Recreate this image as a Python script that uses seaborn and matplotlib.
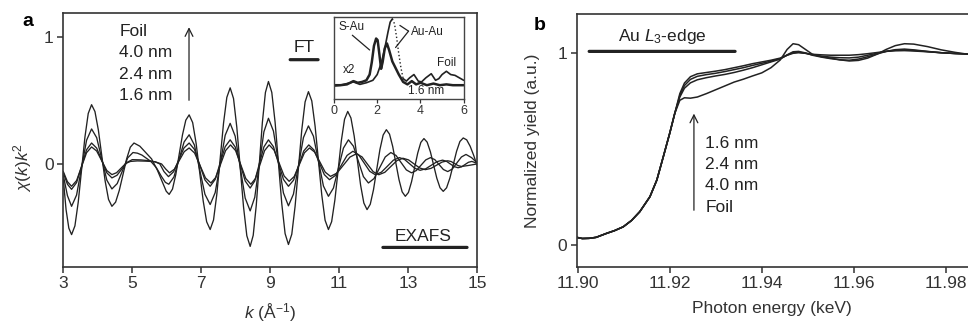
import numpy as np
import pandas as pd
import matplotlib
matplotlib.use("Agg")
import matplotlib.pyplot as plt
import seaborn as sns

# ---------------- Panel a: EXAFS chi(k)k^2 ----------------
k_foil = [3.00, 3.08, 3.16, 3.24, 3.337, 3.433, 3.53, 3.627, 3.723, 3.82, 3.918, 4.017, 4.115, 4.213, 4.312,
          4.41, 4.517, 4.623, 4.73, 4.837, 4.943, 5.05, 5.22, 5.39, 5.56, 5.73, 5.90, 5.985, 6.07, 6.167,
          6.263, 6.36, 6.457, 6.553, 6.65, 6.752, 6.853, 6.955, 7.057, 7.158, 7.26, 7.357, 7.453, 7.55,
          7.647, 7.743, 7.84, 7.937, 8.033, 8.13, 8.227, 8.323, 8.42, 8.508, 8.597, 8.685, 8.773, 8.862,
          8.95, 9.047, 9.143, 9.24, 9.337, 9.433, 9.53, 9.627, 9.723, 9.82, 9.917, 10.013, 10.11, 10.207,
          10.303, 10.40, 10.497, 10.593, 10.69, 10.783, 10.877, 10.97, 11.063, 11.157, 11.25, 11.343,
          11.437, 11.53, 11.623, 11.717, 11.81, 11.903, 11.997, 12.09, 12.183, 12.277, 12.37, 12.462,
          12.553, 12.645, 12.737, 12.828, 12.92, 13.01, 13.10, 13.19, 13.28, 13.37, 13.46, 13.553, 13.647,
          13.74, 13.833, 13.927, 14.02, 14.117, 14.213, 14.31, 14.407, 14.503, 14.60, 14.70, 14.80, 14.90,
          15.00]
chi_foil = [-0.12, -0.36, -0.506, -0.557, -0.488, -0.301, -0.045, 0.211, 0.398, 0.467, 0.413, 0.267, 0.066,
            -0.134, -0.280, -0.334, -0.301, -0.209, -0.085, 0.040, 0.132, 0.165, 0.14, 0.09, 0.04, -0.05,
            -0.16, -0.215, -0.24, -0.198, -0.083, 0.074, 0.230, 0.345, 0.387, 0.326, 0.161, -0.065, -0.291,
            -0.456, -0.517, -0.442, -0.238, 0.042, 0.321, 0.525, 0.600, 0.516, 0.288, -0.025, -0.338, -0.566,
            -0.650, -0.563, -0.325, 0.000, 0.325, 0.563, 0.650, 0.564, 0.329, 0.008, -0.314, -0.549, -0.635,
            -0.554, -0.334, -0.033, 0.269, 0.489, 0.570, 0.497, 0.298, 0.027, -0.245, -0.444, -0.517, -0.455,
            -0.284, -0.052, 0.181, 0.352, 0.414, 0.362, 0.220, 0.027, -0.167, -0.308, -0.360, -0.318, -0.203,
            -0.045, 0.113, 0.228, 0.270, 0.235, 0.139, 0.008, -0.124, -0.220, -0.255, -0.225, -0.141, -0.028,
            0.086, 0.170, 0.200, 0.172, 0.096, -0.008, -0.112, -0.188, -0.216, -0.188, -0.111, -0.006, 0.100,
            0.177, 0.205, 0.19, 0.14, 0.07, -0.01]

k_40 = [3.00, 3.12, 3.24, 3.385, 3.53, 3.675, 3.82, 3.968, 4.115, 4.263, 4.41, 4.563, 4.715, 4.868, 5.02,
        5.15, 5.28, 5.54, 5.70, 5.85, 5.96, 6.06, 6.208, 6.355, 6.503, 6.65, 6.803, 6.955, 7.108, 7.26,
        7.405, 7.55, 7.695, 7.84, 7.985, 8.13, 8.275, 8.42, 8.553, 8.685, 8.818, 8.95, 9.095, 9.24, 9.385,
        9.53, 9.675, 9.82, 9.965, 10.11, 10.255, 10.40, 10.545, 10.69, 10.835, 10.98, 11.125, 11.27,
        11.415, 11.56, 11.705, 11.85, 12.013, 12.175, 12.338, 12.50, 12.65, 12.80, 12.95, 13.10, 13.238,
        13.375, 13.513, 13.65, 13.775, 13.90, 14.025, 14.15, 14.283, 14.415, 14.548, 14.68, 14.84, 15.00]
chi_40 = [-0.09, -0.25, -0.334, -0.245, -0.029, 0.187, 0.276, 0.207, 0.040, -0.128, -0.197, -0.155, -0.054,
          0.048, 0.090, 0.085, 0.070, 0.020, -0.030, -0.100, -0.145, -0.160, -0.103, 0.035, 0.173, 0.230,
          0.149, -0.045, -0.239, -0.320, -0.226, 0.000, 0.226, 0.320, 0.219, -0.025, -0.269, -0.370, -0.263,
          -0.005, 0.253, 0.360, 0.259, 0.015, -0.229, -0.330, -0.238, -0.015, 0.208, 0.300, 0.219, 0.023,
          -0.174, -0.255, -0.190, -0.033, 0.125, 0.190, 0.140, 0.020, -0.100, -0.150, -0.115, -0.030, 0.055,
          0.090, 0.067, 0.010, -0.047, -0.070, -0.052, -0.010, 0.032, 0.050, 0.034, -0.005, -0.044, -0.060,
          -0.040, 0.008, 0.055, 0.075, 0.050, 0.010]

k_24 = [3.00, 3.12, 3.24, 3.385, 3.53, 3.675, 3.82, 3.968, 4.115, 4.263, 4.41, 4.558, 4.705, 4.853, 5.00,
        5.25, 5.50, 5.68, 5.80, 5.92, 6.05, 6.20, 6.35, 6.50, 6.65, 6.803, 6.955, 7.108, 7.26, 7.405, 7.55,
        7.695, 7.84, 7.985, 8.13, 8.275, 8.42, 8.553, 8.685, 8.818, 8.95, 9.095, 9.24, 9.385, 9.53, 9.678,
        9.825, 9.973, 10.12, 10.27, 10.42, 10.57, 10.72, 10.89, 11.06, 11.23, 11.40, 11.563, 11.725,
        11.888, 12.05, 12.225, 12.40, 12.575, 12.75, 12.90, 13.05, 13.20, 13.35, 13.513, 13.675, 13.838,
        14.00, 14.113, 14.225, 14.338, 14.45, 14.55, 14.65, 14.75, 14.85, 15.00]
chi_24 = [-0.07, -0.16, -0.200, -0.147, -0.018, 0.112, 0.165, 0.125, 0.028, -0.070, -0.110, -0.089, -0.038,
          0.013, 0.034, 0.032, 0.025, 0.015, 0.000, -0.060, -0.100, -0.061, 0.033, 0.126, 0.165, 0.115,
          -0.006, -0.126, -0.176, -0.122, 0.007, 0.136, 0.190, 0.134, 0.000, -0.134, -0.190, -0.134, 0.000,
          0.134, 0.190, 0.136, 0.007, -0.122, -0.176, -0.128, -0.013, 0.102, 0.150, 0.110, 0.013, -0.084,
          -0.124, -0.091, -0.012, 0.067, 0.100, 0.073, 0.008, -0.058, -0.085, -0.065, -0.018, 0.030, 0.050,
          0.035, 0.000, -0.035, -0.050, -0.038, -0.010, 0.018, 0.030, 0.021, 0.000, -0.021, -0.030, -0.023,
          -0.005, 0.013, 0.020, 0.005]

k_16 = [3.00, 3.12, 3.24, 3.385, 3.53, 3.675, 3.82, 3.968, 4.115, 4.263, 4.41, 4.545, 4.68, 4.815, 4.95,
        5.15, 5.40, 5.65, 5.85, 5.97, 6.08, 6.223, 6.365, 6.508, 6.65, 6.808, 6.965, 7.123, 7.28, 7.423,
        7.565, 7.708, 7.85, 7.998, 8.145, 8.293, 8.44, 8.573, 8.705, 8.838, 8.97, 9.115, 9.26, 9.405, 9.55,
        9.698, 9.845, 9.993, 10.14, 10.293, 10.445, 10.598, 10.75, 10.938, 11.125, 11.313, 11.50, 11.663,
        11.825, 11.988, 12.15, 12.325, 12.50, 12.675, 12.85, 13.013, 13.175, 13.338, 13.50, 13.663, 13.825,
        13.988, 14.15, 14.25, 14.35, 14.45, 14.55, 14.75, 15.00]
chi_16 = [-0.06, -0.14, -0.176, -0.131, -0.021, 0.089, 0.134, 0.102, 0.025, -0.052, -0.084, -0.069, -0.032,
          0.005, 0.020, 0.024, 0.022, 0.018, 0.000, -0.040, -0.070, -0.041, 0.028, 0.097, 0.126, 0.086,
          -0.012, -0.110, -0.150, -0.106, 0.000, 0.106, 0.150, 0.105, -0.005, -0.115, -0.160, -0.115, -0.005,
          0.105, 0.150, 0.108, 0.007, -0.095, -0.137, -0.099, -0.006, 0.088, 0.126, 0.093, 0.014, -0.065,
          -0.098, -0.072, -0.009, 0.054, 0.080, 0.056, -0.003, -0.061, -0.085, -0.066, -0.020, 0.026, 0.045,
          0.032, 0.000, -0.032, -0.045, -0.035, -0.010, 0.015, 0.025, 0.019, 0.003, -0.013, -0.020, -0.012,
          0.000]

exafs_labels = ["Foil", "4.0 nm", "2.4 nm", "1.6 nm"]
k_ticks = [3, 5, 7, 9, 11, 13, 15]

# ---------------- Inset: Fourier transform ----------------
ft_r_16 = [0, 0.3, 0.6, 0.9, 1.1, 1.3, 1.5, 1.65, 1.75, 1.85, 1.95, 2.02, 2.1, 2.18, 2.25, 2.35, 2.45, 2.55,
           2.7, 2.85, 3.0, 3.2, 3.4, 3.6, 3.8, 4.0, 4.3, 4.6, 4.9, 5.2, 5.5, 5.8, 6.0]
ft_16 = [0.17, 0.17, 0.18, 0.22, 0.20, 0.21, 0.23, 0.30, 0.45, 0.65, 0.74, 0.72, 0.55, 0.37, 0.45, 0.62,
         0.68, 0.60, 0.46, 0.38, 0.30, 0.21, 0.18, 0.22, 0.18, 0.20, 0.17, 0.19, 0.17, 0.18, 0.17, 0.17, 0.17]
ft_r_foil = [0, 0.3, 0.6, 0.9, 1.2, 1.5, 1.8, 2.0, 2.2, 2.35, 2.5, 2.6, 2.7, 2.8, 2.9, 3.0, 3.1, 3.2, 3.35,
             3.5, 3.7, 3.9, 4.05, 4.25, 4.5, 4.7, 4.85, 5.0, 5.2, 5.4, 5.6, 5.8, 6.0]
ft_foil = [0.16, 0.17, 0.19, 0.21, 0.18, 0.20, 0.23, 0.30, 0.45, 0.62, 0.82, 0.94, 0.98, 0.92, 0.75, 0.55,
           0.38, 0.25, 0.22, 0.26, 0.30, 0.22, 0.21, 0.26, 0.31, 0.23, 0.25, 0.30, 0.34, 0.30, 0.29, 0.26, 0.23]
r_ticks = [0, 2, 4, 6]

# ---------------- Panel b: XANES ----------------
xanes_e = [11.8998, 11.9010, 11.9025, 11.9040, 11.9063, 11.9080, 11.9099, 11.9117, 11.9135, 11.9157,
           11.9172, 11.9186, 11.9200, 11.9211, 11.9222, 11.9232, 11.9245, 11.9260, 11.9280, 11.9300,
           11.9320, 11.9340, 11.9360, 11.9380, 11.9400, 11.9420, 11.9440, 11.9455, 11.9468, 11.9480,
           11.9495, 11.9510, 11.9530, 11.9550, 11.9570, 11.9590, 11.9610, 11.9630, 11.9650, 11.9670,
           11.9690, 11.9710, 11.9730, 11.9760, 11.9790, 11.9820, 11.9848]
xanes_edge = [0.040, 0.034, 0.035, 0.040, 0.061, 0.075, 0.095, 0.128, 0.174, 0.252, 0.339, 0.460, 0.583, 0.687]
xanes_foil = [0.755, 0.768, 0.766, 0.772, 0.790, 0.810, 0.830, 0.850, 0.865, 0.882, 0.898, 0.925, 0.965,
              1.020, 1.050, 1.045, 1.020, 0.995, 0.982, 0.975, 0.966, 0.960, 0.963, 0.975, 0.995, 1.020,
              1.040, 1.050, 1.048, 1.035, 1.018, 1.005, 0.995]
xanes_40 = [0.772, 0.818, 0.846, 0.862, 0.873, 0.882, 0.890, 0.900, 0.912, 0.925, 0.940, 0.955, 0.970,
            0.992, 1.008, 1.010, 1.002, 0.990, 0.980, 0.972, 0.966, 0.964, 0.970, 0.982, 0.996, 1.010,
            1.019, 1.022, 1.018, 1.010, 1.003, 0.999, 0.996]
xanes_24 = [0.780, 0.832, 0.864, 0.880, 0.889, 0.896, 0.905, 0.915, 0.925, 0.937, 0.948, 0.959, 0.972,
            0.990, 1.004, 1.006, 1.000, 0.992, 0.985, 0.980, 0.977, 0.976, 0.980, 0.990, 1.000, 1.010,
            1.016, 1.018, 1.015, 1.009, 1.003, 0.999, 0.996]
xanes_16 = [0.790, 0.845, 0.878, 0.893, 0.900, 0.907, 0.915, 0.925, 0.935, 0.946, 0.955, 0.964, 0.975,
            0.990, 1.000, 1.003, 1.000, 0.995, 0.992, 0.990, 0.990, 0.990, 0.993, 0.998, 1.004, 1.010,
            1.013, 1.014, 1.012, 1.008, 1.003, 0.999, 0.996]
xanes_labels = ["1.6 nm", "2.4 nm", "4.0 nm", "Foil"]
e_ticks = [11.90, 11.92, 11.94, 11.96, 11.98]

# ---------------- style ----------------
sns.set_theme(style="ticks")
plt.rcParams["font.family"] = ["Liberation Sans", "DejaVu Sans"]
plt.rcParams["mathtext.fontset"] = "custom"
plt.rcParams["mathtext.rm"] = "Liberation Sans"
plt.rcParams["mathtext.it"] = "Liberation Sans:italic"
plt.rcParams["mathtext.bf"] = "Liberation Sans:bold"

INK = "#222222"
AX = "#333333"
FS = 12.5

fig = plt.figure(figsize=(9.68, 3.25), dpi=100)
axa = fig.add_axes([0.0654, 0.1794, 0.4274, 0.7806])
axb = fig.add_axes([0.5958, 0.1794, 0.4042, 0.7775])


def style_axes(ax):
    for s in ax.spines.values():
        s.set_linewidth(1.2)
        s.set_color(AX)
    ax.tick_params(direction="out", length=4, width=1.1, color=AX, labelcolor=AX,
                   labelsize=FS, pad=3)


# ---- panel a ----
df_a = pd.concat([
    pd.DataFrame({"k": k_foil, "chi": chi_foil, "sample": exafs_labels[0]}),
    pd.DataFrame({"k": k_40, "chi": chi_40, "sample": exafs_labels[1]}),
    pd.DataFrame({"k": k_24, "chi": chi_24, "sample": exafs_labels[2]}),
    pd.DataFrame({"k": k_16, "chi": chi_16, "sample": exafs_labels[3]}),
])
sns.lineplot(data=df_a, x="k", y="chi", units="sample", estimator=None, color=INK,
             lw=0.95, ax=axa, legend=False, sort=False)
axa.set_xlim(3, 15)
axa.set_ylim(-0.81, 1.19)
axa.set_xticks(k_ticks)
axa.set_yticks([0, 1])
axa.set_yticklabels(["0", "1"])
style_axes(axa)
axa.set_xlabel(r"$k$ (Å$^{-1}$)", fontsize=FS, color=AX, labelpad=7)
axa.set_ylabel(r"$\chi(k)k^2$", fontsize=FS, color=AX)
axa.yaxis.set_label_coords(-0.07, 0.39)

for lab, yv in zip(exafs_labels, [1.042, 0.876, 0.703, 0.538]):
    axa.text(4.62, yv, lab, fontsize=FS, color=INK, ha="left", va="center")
axa.annotate("", xy=(6.646, 1.10), xytext=(6.646, 0.48),
             arrowprops=dict(arrowstyle="->", lw=0.9, color=INK, mutation_scale=14))
axa.text(9.98, 0.92, "FT", fontsize=FS, color=INK, ha="center", va="center")
axa.annotate("", xy=(9.58, 0.822), xytext=(10.39, 0.822),
             arrowprops=dict(arrowstyle="-", lw=2.3, color=INK, shrinkA=0, shrinkB=0))
axa.text(13.44, -0.57, "EXAFS", fontsize=FS, color=INK, ha="center", va="center")
axa.annotate("", xy=(12.27, -0.658), xytext=(14.71, -0.658),
             arrowprops=dict(arrowstyle="-", lw=2.3, color=INK, shrinkA=0, shrinkB=0))
fig.text(0.029, 0.933, "a", fontsize=14, fontweight="bold", color="black", ha="center", va="center")

# ---- inset ----
axi = fig.add_axes([0.345, 0.695, 0.134, 0.252])
axi.set_facecolor("white")
df_i16 = pd.DataFrame({"R": ft_r_16, "FT": ft_16})
df_if = pd.DataFrame({"R": ft_r_foil, "FT": ft_foil})
sns.lineplot(data=df_i16, x="R", y="FT", color=INK, lw=1.8, ax=axi, legend=False)
sns.lineplot(data=df_if[df_if.R <= 2.7], x="R", y="FT", color=INK, lw=1.2, ax=axi, legend=False)
sns.lineplot(data=df_if[(df_if.R >= 2.7) & (df_if.R <= 3.2)], x="R", y="FT", color=INK, lw=1.0,
             linestyle=":", ax=axi, legend=False)
sns.lineplot(data=df_if[df_if.R >= 3.2], x="R", y="FT", color=INK, lw=1.2, ax=axi, legend=False)
axi.set_xlim(0, 6)
axi.set_ylim(0, 1)
axi.set_xticks(r_ticks)
axi.set_yticks([])
axi.set_xlabel("")
axi.set_ylabel("")
for s in axi.spines.values():
    s.set_linewidth(1.0)
    s.set_color("#444444")
axi.tick_params(axis="x", direction="out", length=3, width=0.9, color=AX, labelcolor=AX,
                labelsize=9, pad=1.5)
FSI = 8.5
axi.text(0.8, 0.885, "S-Au", fontsize=FSI, color=INK, ha="center", va="center")
axi.text(4.3, 0.82, "Au-Au", fontsize=FSI, color=INK, ha="center", va="center")
axi.text(5.2, 0.44, "Foil", fontsize=FSI, color=INK, ha="center", va="center")
axi.text(0.72, 0.35, "x2", fontsize=FSI, color=INK, ha="center", va="center")
axi.text(4.25, 0.10, "1.6 nm", fontsize=FSI, color=INK, ha="center", va="center")
line_kw = dict(arrowstyle="-", lw=0.9, color=INK, shrinkA=0, shrinkB=0)
axi.annotate("", xy=(1.65, 0.60), xytext=(0.85, 0.78), arrowprops=line_kw)
axi.annotate("", xy=(3.05, 0.90), xytext=(3.45, 0.83), arrowprops=line_kw)
axi.annotate("", xy=(2.85, 0.63), xytext=(3.45, 0.83), arrowprops=line_kw)

# ---- panel b ----
df_b = pd.concat([
    pd.DataFrame({"E": xanes_e, "mu": xanes_edge + xanes_16, "sample": xanes_labels[0]}),
    pd.DataFrame({"E": xanes_e, "mu": xanes_edge + xanes_24, "sample": xanes_labels[1]}),
    pd.DataFrame({"E": xanes_e, "mu": xanes_edge + xanes_40, "sample": xanes_labels[2]}),
    pd.DataFrame({"E": xanes_e, "mu": xanes_edge + xanes_foil, "sample": xanes_labels[3]}),
])
sns.lineplot(data=df_b, x="E", y="mu", units="sample", estimator=None, color=INK,
             lw=1.1, ax=axb, legend=False, sort=False)
axb.set_xlim(11.8998, 11.9848)
axb.set_ylim(-0.113, 1.205)
axb.set_xticks(e_ticks)
axb.set_xticklabels([f"{v:.2f}" for v in e_ticks])
axb.set_yticks([0, 1])
axb.set_yticklabels(["0", "1"])
style_axes(axb)
axb.spines["right"].set_visible(False)
axb.set_xlabel("Photon energy (keV)", fontsize=FS, color=AX, labelpad=7)
axb.set_ylabel("Normalized yield (a.u.)", fontsize=FS, color=AX)
axb.yaxis.set_label_coords(-0.095, 0.5)

axb.text(11.9183, 1.09, r"Au $L_3$-edge", fontsize=FS, color=INK, ha="center", va="center")
axb.annotate("", xy=(11.9025, 1.01), xytext=(11.9342, 1.01),
             arrowprops=dict(arrowstyle="-", lw=2.3, color=INK, shrinkA=0, shrinkB=0))
axb.annotate("", xy=(11.92526, 0.70), xytext=(11.92526, 0.167),
             arrowprops=dict(arrowstyle="->", lw=0.9, color=INK, mutation_scale=14))
for lab, yv in zip(xanes_labels, [0.532, 0.4225, 0.308, 0.198]):
    axb.text(11.9277, yv, lab, fontsize=FS, color=INK, ha="left", va="center")
fig.text(0.557, 0.923, "b", fontsize=14, fontweight="bold", color="black", ha="center", va="center")

fig.savefig("out.png", dpi=100, facecolor="white")
